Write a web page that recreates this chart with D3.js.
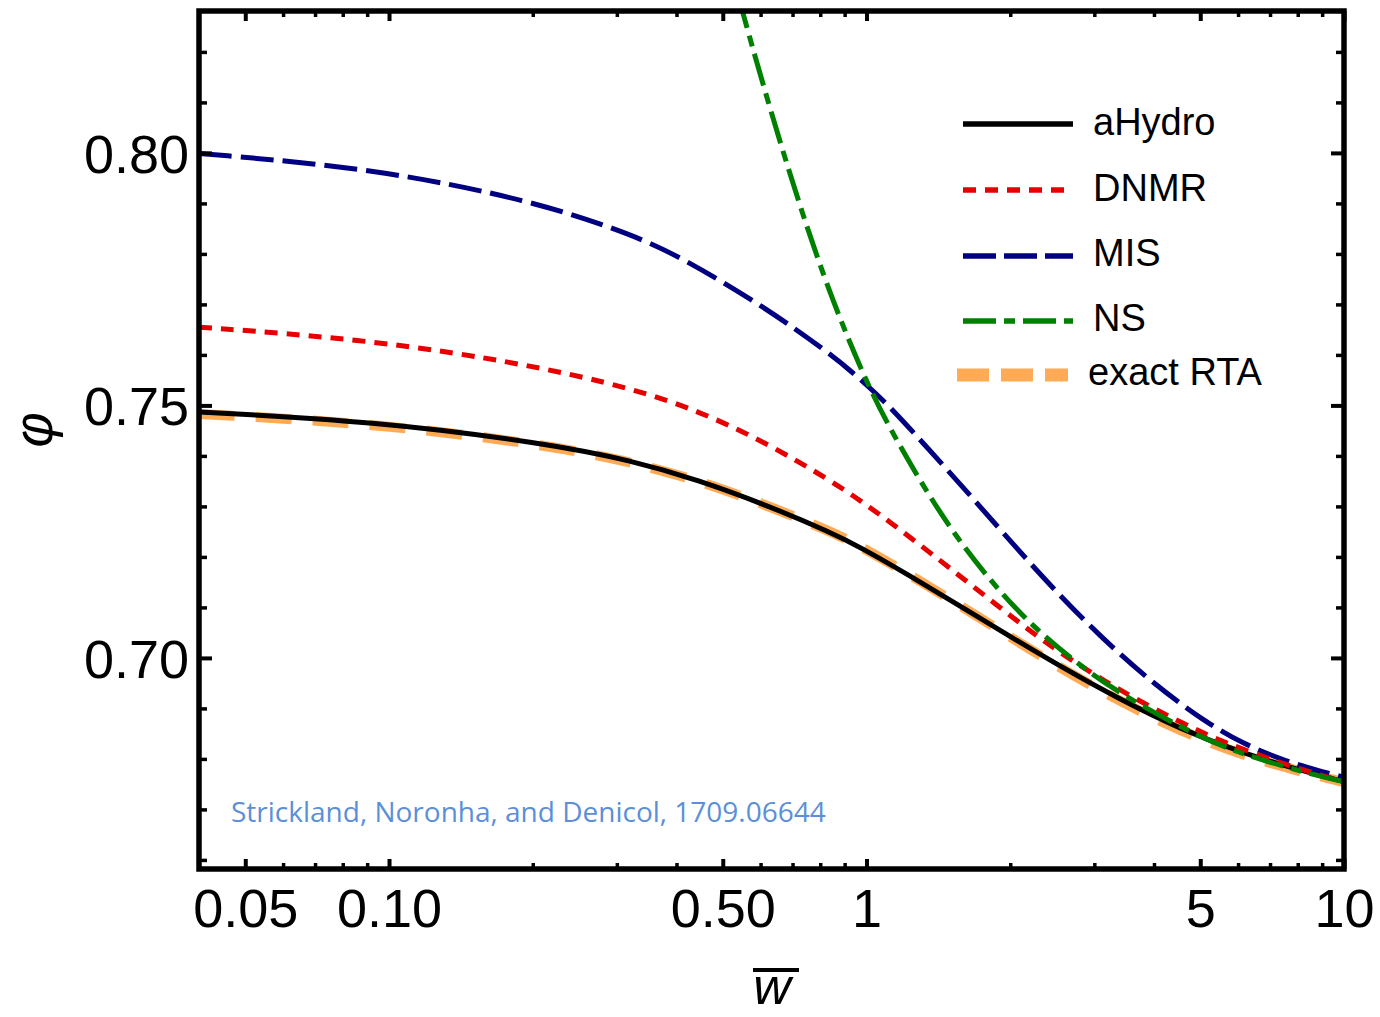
<!DOCTYPE html>
<html>
<head>
<meta charset="utf-8">
<script src="https://cdn.jsdelivr.net/npm/d3@7"></script>
<style>
  html, body { margin: 0; padding: 0; background: #fff; }
  svg { display: block; }
</style>
</head>
<body>
<svg id="chart" width="1380" height="1017"></svg>
<script>
// ---------------- data ----------------
const aHydroW   = [0.04, 0.092, 0.214, 0.322, 0.445, 0.612, 0.845, 0.976, 1.242, 1.58, 2.01, 2.56, 3.30, 4.56, 6.30, 8.66, 10];
const aHydroPhi = [0.7487, 0.7469, 0.7425, 0.7391, 0.7352, 0.7304, 0.7248, 0.7218, 0.7161, 0.7101, 0.7041, 0.6982, 0.6924, 0.6858, 0.6807, 0.6770, 0.6755];

const rtaW   = [0.04, 0.092, 0.214, 0.322, 0.445, 0.612, 0.845, 0.976, 1.242, 1.58, 2.01, 2.56, 3.30, 4.56, 6.30, 8.66, 10];
const rtaPhi = [0.7483, 0.7465, 0.7422, 0.7388, 0.7351, 0.7304, 0.7250, 0.7220, 0.7163, 0.7102, 0.7040, 0.6979, 0.6920, 0.6854, 0.6803, 0.6768, 0.6754];

const dnmrW   = [0.04, 0.092, 0.199, 0.322, 0.445, 0.612, 0.845, 0.976, 1.128, 1.348, 1.634, 2.01, 2.438, 3.0, 3.81, 4.946, 5.53, 7.75, 10];
const dnmrPhi = [0.7655, 0.7630, 0.7580, 0.7534, 0.7489, 0.7428, 0.7350, 0.7310, 0.7267, 0.7211, 0.7149, 0.7082, 0.7022, 0.6966, 0.6909, 0.6856, 0.6835, 0.6784, 0.6755];

const misW   = [0.04, 0.092, 0.199, 0.322, 0.41, 0.612, 0.845, 0.930, 1.024, 1.128, 1.348, 1.634, 1.981, 2.438, 3.058, 3.948, 5.14, 6.15, 7.38, 8.87, 10];
const misPhi = [0.7999, 0.7970, 0.7906, 0.7839, 0.7793, 0.7695, 0.7600, 0.7567, 0.7532, 0.7494, 0.7414, 0.7326, 0.7236, 0.7141, 0.7046, 0.6952, 0.6872, 0.6830, 0.6799, 0.6776, 0.6764];

const nsW   = [0.50, 0.548, 0.655, 0.813, 1.0, 1.128, 1.303, 1.528, 1.826, 2.215, 2.777, 3.417, 4.946, 6.302, 8.66, 10];
const nsPhi = [0.8425, 0.8283, 0.8026, 0.7749, 0.7544, 0.7449, 0.7346, 0.7244, 0.7150, 0.7064, 0.6987, 0.6927, 0.6844, 0.6805, 0.6768, 0.6755];

const xMajorTicks  = [0.05, 0.1, 0.5, 1, 5, 10];
const xMajorLabels = ["0.05", "0.10", "0.50", "1", "5", "10"];
const xMinorTicks  = [0.06, 0.07, 0.08, 0.09, 0.2, 0.3, 0.4, 0.6, 0.7, 0.8, 0.9, 2, 3, 4, 6, 7, 8, 9];
const yMajorTicks  = [0.70, 0.75, 0.80];
const yMajorLabels = ["0.70", "0.75", "0.80"];
const yMinorTicks  = [0.66, 0.67, 0.68, 0.69, 0.71, 0.72, 0.73, 0.74, 0.76, 0.77, 0.78, 0.79, 0.81, 0.82];

const seriesNames = ["aHydro", "DNMR", "MIS", "NS", "exact RTA"];
const annotation = "Strickland, Noronha, and Denicol, 1709.06644";

// ---------------- layout ----------------
const L = 199, R = 1344, T = 11, B = 869;
const svg = d3.select("#chart");
const x = d3.scaleLog().domain([0.04, 10]).range([L, R]);
const y = d3.scaleLinear().domain([0.6582, 0.8281]).range([B, T]);

const FONT = "'Liberation Sans', Arial, Helvetica, sans-serif";

svg.append("defs").append("clipPath").attr("id", "plotclip")
  .append("rect").attr("x", L).attr("y", T).attr("width", R - L).attr("height", B - T);

const styles = {
  "aHydro":    {color: "#000000", width: 5,  dash: null,         legW: 5.5, legDash: null},
  "DNMR":      {color: "#e60000", width: 5,  dash: "13,9",       legW: 5.5, legDash: "13,9"},
  "MIS":       {color: "#000080", width: 5,  dash: "33,9",       legW: 5.5, legDash: "33,8"},
  "NS":        {color: "#008000", width: 5,  dash: "33,8,11,8",  legW: 5.5, legDash: "33,8,11,8"},
  "exact RTA": {color: "#ffaa55", width: 10, dash: "36,21",      legW: 13,  legDash: "32,12"}
};

const line = d3.line().x(d => x(d[0])).y(d => y(d[1])).curve(d3.curveBasis);
const zip = (a, b) => a.map((v, i) => [v, b[i]]);

const plot = svg.append("g").attr("clip-path", "url(#plotclip)");
const drawOrder = [
  ["exact RTA", zip(rtaW, rtaPhi)],
  ["aHydro", zip(aHydroW, aHydroPhi)],
  ["MIS", zip(misW, misPhi)],
  ["DNMR", zip(dnmrW, dnmrPhi)],
  ["NS", zip(nsW, nsPhi)]
];
drawOrder.forEach(([name, data]) => {
  const s = styles[name];
  plot.append("path")
    .attr("d", line(data))
    .attr("fill", "none")
    .attr("stroke", s.color)
    .attr("stroke-width", s.width)
    .attr("stroke-dasharray", s.dash)
    .attr("stroke-linejoin", "round");
});

// ---------------- axes (frame ticks, inward) ----------------
function styleAxis(g) {
  g.select(".domain").remove();
  g.selectAll(".tick line").attr("stroke", "#000");
  g.selectAll("text").attr("font-family", FONT).attr("font-size", 54).attr("fill", "#000");
}
svg.append("g").attr("transform", `translate(0,${B})`)
  .call(d3.axisBottom(x).tickValues(xMajorTicks).tickSize(-10).tickPadding(20)
        .tickFormat((d, i) => xMajorLabels[i]))
  .call(styleAxis).call(g => g.selectAll(".tick line").attr("stroke-width", 4));
svg.append("g").attr("transform", `translate(0,${B})`)
  .call(d3.axisBottom(x).tickValues(xMinorTicks).tickSize(-6).tickFormat(""))
  .call(styleAxis).call(g => g.selectAll(".tick line").attr("stroke-width", 3.5));
svg.append("g").attr("transform", `translate(0,${T})`)
  .call(d3.axisTop(x).tickValues(xMajorTicks).tickSize(-10).tickFormat(""))
  .call(styleAxis).call(g => g.selectAll(".tick line").attr("stroke-width", 4));
svg.append("g").attr("transform", `translate(0,${T})`)
  .call(d3.axisTop(x).tickValues(xMinorTicks).tickSize(-6).tickFormat(""))
  .call(styleAxis).call(g => g.selectAll(".tick line").attr("stroke-width", 3.5));
svg.append("g").attr("transform", `translate(${L},0)`)
  .call(d3.axisLeft(y).tickValues(yMajorTicks).tickSize(-13).tickPadding(10)
        .tickFormat((d, i) => yMajorLabels[i]))
  .call(styleAxis).call(g => g.selectAll(".tick line").attr("stroke-width", 4))
  .call(g => g.selectAll("text").attr("dy", "0.36em"));
svg.append("g").attr("transform", `translate(${L},0)`)
  .call(d3.axisLeft(y).tickValues(yMinorTicks).tickSize(-8).tickFormat(""))
  .call(styleAxis).call(g => g.selectAll(".tick line").attr("stroke-width", 3.5));
svg.append("g").attr("transform", `translate(${R},0)`)
  .call(d3.axisRight(y).tickValues(yMajorTicks).tickSize(-13).tickFormat(""))
  .call(styleAxis).call(g => g.selectAll(".tick line").attr("stroke-width", 4));
svg.append("g").attr("transform", `translate(${R},0)`)
  .call(d3.axisRight(y).tickValues(yMinorTicks).tickSize(-8).tickFormat(""))
  .call(styleAxis).call(g => g.selectAll(".tick line").attr("stroke-width", 3.5));

svg.append("rect").attr("x", L).attr("y", T).attr("width", R - L).attr("height", B - T)
  .attr("fill", "none").attr("stroke", "#000").attr("stroke-width", 5.5);

// ---------------- axis labels ----------------
svg.append("text")
  .attr("transform", "translate(52,430) rotate(-90)")
  .attr("text-anchor", "middle")
  .attr("font-family", FONT).attr("font-style", "italic").attr("font-size", 54)
  .text("φ");

svg.append("text")
  .attr("x", 772).attr("y", 1004)
  .attr("text-anchor", "middle")
  .attr("font-family", FONT).attr("font-style", "italic").attr("font-size", 52)
  .text("w");
svg.append("line").attr("x1", 753).attr("x2", 799).attr("y1", 970).attr("y2", 970)
  .attr("stroke", "#000").attr("stroke-width", 4);

// ---------------- annotation ----------------
svg.append("text")
  .attr("x", 231).attr("y", 822)
  .attr("font-family", "'Open Sans', 'Noto Sans', sans-serif")
  .attr("font-size", 28)
  .attr("fill", "#5b8fd8")
  .text(annotation);

// ---------------- legend ----------------
const legendRows = [
  {name: "aHydro",    ly: 124, ty: 135, x1: 963, x2: 1073, tx: 1093},
  {name: "DNMR",      ly: 190, ty: 201, x1: 963, x2: 1073, tx: 1093},
  {name: "MIS",       ly: 256, ty: 266, x1: 963, x2: 1073, tx: 1093},
  {name: "NS",        ly: 321, ty: 331, x1: 963, x2: 1073, tx: 1093},
  {name: "exact RTA", ly: 375, ty: 385, x1: 957, x2: 1068, tx: 1088}
];
const leg = svg.append("g");
legendRows.forEach(r => {
  const s = styles[r.name];
  leg.append("line")
    .attr("x1", r.x1).attr("x2", r.x2).attr("y1", r.ly).attr("y2", r.ly)
    .attr("stroke", s.color)
    .attr("stroke-width", s.legW)
    .attr("stroke-dasharray", s.legDash);
  leg.append("text")
    .attr("x", r.tx).attr("y", r.ty)
    .attr("font-family", FONT).attr("font-size", 38).attr("fill", "#000")
    .text(seriesNames[seriesNames.indexOf(r.name)]);
});
</script>
</body>
</html>
